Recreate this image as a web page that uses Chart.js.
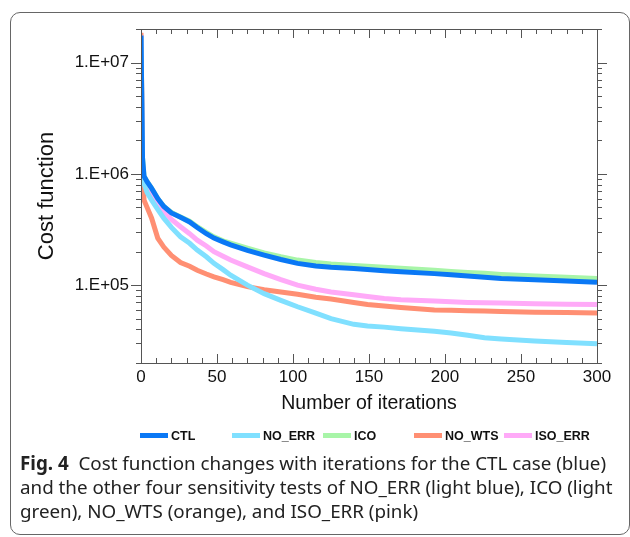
<!DOCTYPE html>
<html>
<head>
<meta charset="utf-8">
<script src="https://cdn.jsdelivr.net/npm/chart.js@4.4.1/dist/chart.umd.min.js"></script>
<style>
  body { margin: 0; width: 630px; height: 537px; position: relative; background: #fff; overflow: hidden; }
  #frame { position: absolute; left: 10px; top: 12px; width: 618px; height: 521px; border: 1px solid #666; border-radius: 10px; }
  #chart { position: absolute; left: 0; top: 0; }
  #legend { position: absolute; left: 0; top: 428px; width: 630px; height: 16px; font: bold 12.5px "Liberation Sans", Arial, sans-serif; color: #111; }
  .item { position: absolute; top: 0; height: 16px; line-height: 16px; white-space: nowrap; }
  .swatch { display: inline-block; width: 28px; height: 5px; vertical-align: middle; margin-right: 3px; position: relative; top: -1px; }
  #caption { position: absolute; left: 20px; top: 451px; font: 18.8px "Noto Sans", "Open Sans", sans-serif; line-height: 24px; color: #222; white-space: nowrap; }
</style>
</head>
<body>
<div id="frame"></div>
<canvas id="chart" width="630" height="537"></canvas>
<div id="legend"></div>
<div id="caption"><b>Fig. 4</b>&nbsp; Cost function changes with iterations for the CTL case (blue)<br>and the other four sensitivity tests of NO_ERR (light blue), ICO (light<br>green), NO_WTS (orange), and ISO_ERR (pink)</div>
<script>
// iterations where values were read
const iters = [0, 1, 2, 4, 7, 11, 15, 20, 26, 32, 37, 43, 48, 54, 59, 70, 81, 92, 103, 115, 125, 140, 149, 160, 171, 193, 204, 215, 226, 237, 259, 280, 300];

const ctl    = [1.75e7, 1.4e6, 9.5e5, 8.5e5, 7.4e5, 6.0e5, 5.1e5, 4.45e5, 4.07e5, 3.7e5, 3.3e5, 2.9e5, 2.65e5, 2.45e5, 2.3e5, 2.05e5, 1.86e5, 1.7e5, 1.57e5, 1.49e5, 1.45e5, 1.41e5, 1.38e5, 1.35e5, 1.32e5, 1.27e5, 1.24e5, 1.21e5, 1.18e5, 1.15e5, 1.12e5, 1.09e5, 1.06e5];
const noErr  = [1.7e7, 1.0e6, 8.2e5, 6.8e5, 5.8e5, 4.8e5, 4.0e5, 3.3e5, 2.72e5, 2.38e5, 2.07e5, 1.8e5, 1.57e5, 1.38e5, 1.23e5, 1.0e5, 8.4e4, 7.3e4, 6.4e4, 5.6e4, 5.0e4, 4.45e4, 4.3e4, 4.2e4, 4.07e4, 3.85e4, 3.72e4, 3.55e4, 3.37e4, 3.28e4, 3.15e4, 3.05e4, 2.98e4];
const ico    = [1.75e7, 1.4e6, 9.5e5, 8.5e5, 7.4e5, 6.0e5, 5.1e5, 4.5e5, 4.1e5, 3.75e5, 3.35e5, 2.98e5, 2.72e5, 2.5e5, 2.38e5, 2.15e5, 1.95e5, 1.8e5, 1.68e5, 1.6e5, 1.55e5, 1.5e5, 1.48e5, 1.45e5, 1.42e5, 1.36e5, 1.33e5, 1.3e5, 1.28e5, 1.25e5, 1.21e5, 1.18e5, 1.15e5];
const noWts  = [1.85e7, 1.2e6, 5.8e5, 5.0e5, 4.0e5, 2.65e5, 2.2e5, 1.85e5, 1.6e5, 1.48e5, 1.36e5, 1.26e5, 1.19e5, 1.12e5, 1.06e5, 9.7e4, 9.1e4, 8.7e4, 8.3e4, 7.8e4, 7.5e4, 7.0e4, 6.7e4, 6.5e4, 6.3e4, 6.0e4, 5.95e4, 5.9e4, 5.85e4, 5.8e4, 5.72e4, 5.67e4, 5.63e4];
const isoErr = [1.75e7, 1.2e6, 9.0e5, 7.8e5, 6.6e5, 5.5e5, 4.6e5, 3.9e5, 3.35e5, 2.9e5, 2.54e5, 2.25e5, 2.0e5, 1.82e5, 1.68e5, 1.46e5, 1.27e5, 1.12e5, 1.0e5, 9.2e4, 8.7e4, 8.2e4, 7.9e4, 7.6e4, 7.4e4, 7.2e4, 7.1e4, 7.0e4, 6.95e4, 6.9e4, 6.8e4, 6.75e4, 6.7e4];

const names  = ['CTL', 'NO_ERR', 'ICO', 'NO_WTS', 'ISO_ERR'];
const colors = ['#0a78f5', '#80e0ff', '#a8f5a8', '#ff8f73', '#ffaaf8'];
const yTicks = [1e5, 1e6, 1e7];
const xTicks = [0, 50, 100, 150, 200, 250, 300];

const series = [ctl, noErr, ico, noWts, isoErr];
const drawOrder = [0, 1, 4, 3, 2]; // lower = on top

// tick marks + frame like the original (y outward, x inward)
const axisMarks = {
  id: 'axisMarks',
  afterDatasetsDraw(chart) {
    const { ctx, chartArea: a, scales: { x, y } } = chart;
    ctx.save();
    ctx.strokeStyle = '#555';
    ctx.lineWidth = 1;
    ctx.strokeRect(a.left + 0.5, a.top + 0.5, a.right - a.left, a.bottom - a.top);
    ctx.beginPath();
    for (let v = 0; v <= 300; v += 10) {
      const px = Math.round(x.getPixelForValue(v)) + 0.5;
      const len = v % 50 === 0 ? 9 : 5;
      ctx.moveTo(px, a.bottom); ctx.lineTo(px, a.bottom - len);
      ctx.moveTo(px, a.top); ctx.lineTo(px, a.top + len);
    }
    for (let e = 4; e <= 7; e++) {
      for (let m = 1; m <= 9; m++) {
        const v = m * Math.pow(10, e);
        if (v < y.min || v > y.max) continue;
        const py = Math.round(y.getPixelForValue(v)) + 0.5;
        const len = m === 1 ? 10 : 5;
        ctx.moveTo(a.left - len, py); ctx.lineTo(a.left, py);
        ctx.moveTo(a.right, py); ctx.lineTo(a.right + len, py);
      }
    }
    ctx.stroke();
    ctx.restore();
  }
};

new Chart(document.getElementById('chart'), {
  type: 'line',
  data: {
    datasets: series.map((s, i) => ({
      label: names[i],
      data: s.map((v, k) => ({ x: iters[k], y: v })),
      borderColor: colors[i],
      backgroundColor: colors[i],
      borderWidth: 5,
      pointRadius: 0,
      tension: 0,
      order: drawOrder[i]
    }))
  },
  options: {
    responsive: false,
    animation: false,
    layout: { padding: { left: 30, top: 29, right: 33, bottom: 120 } },
    plugins: { legend: { display: false }, tooltip: { enabled: false } },
    scales: {
      x: {
        type: 'linear', min: 0, max: 300,
        grid: { display: false, drawTicks: false },
        border: { display: false },
        afterBuildTicks: s => { s.ticks = xTicks.map(v => ({ value: v })); },
        afterFit: s => { s.height = 54; },
        ticks: { color: '#111', font: { family: 'Liberation Sans', size: 17 }, padding: 4, maxRotation: 0, autoSkip: false },
        title: { display: true, text: 'Number of iterations', color: '#111', font: { family: 'Liberation Sans', size: 19.5 }, padding: { top: 6, bottom: 2 } }
      },
      y: {
        type: 'logarithmic', min: 2e4, max: 2e7,
        grid: { display: false, drawTicks: false },
        border: { display: false },
        afterBuildTicks: s => { s.ticks = yTicks.map(v => ({ value: v })); },
        afterFit: s => { s.width = 111; },
        ticks: {
          color: '#111', font: { family: 'Liberation Sans', size: 17 }, padding: 12, autoSkip: false,
          callback: v => '1.E+' + String(Math.round(Math.log10(v))).padStart(2, '0')
        },
        title: { display: true, text: 'Cost function', color: '#111', font: { family: 'Liberation Sans', size: 22 }, padding: { bottom: 4 } }
      }
    }
  },
  plugins: [axisMarks]
});

// legend in fixed columns
const legend = document.getElementById('legend');
const cols = [140, 232, 323, 414, 504];
names.forEach((n, i) => {
  const el = document.createElement('div');
  el.className = 'item';
  el.style.left = cols[i] + 'px';
  el.innerHTML = '<span class="swatch" style="background:' + colors[i] + '"></span>' + n;
  legend.appendChild(el);
});
</script>
</body>
</html>
